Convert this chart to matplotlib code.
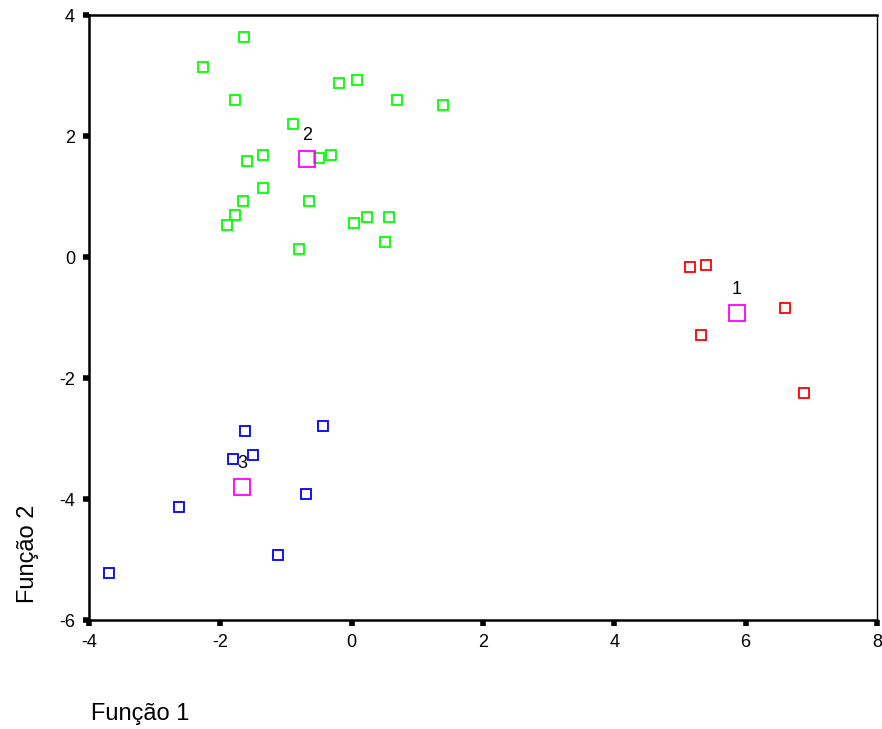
import matplotlib.pyplot as plt

plt.rcParams['font.family'] = ['Liberation Sans', 'DejaVu Sans']
plt.rcParams['axes.unicode_minus'] = False

# grupo 1 (vermelho)
g1_x = [5.16, 5.40, 6.60, 5.32, 6.89]
g1_y = [-0.16, -0.13, -0.85, -1.29, -2.24]

# grupo 2 (verde)
g2_x = [-1.64, -2.26, -1.78, -0.19, 0.08, 0.69, 1.39, -0.89, -1.35, -1.59, -0.50,
        -0.31, -1.35, -1.65, -0.65, -1.78, -1.90, 0.04, 0.23, 0.57, 0.51, -0.80]
g2_y = [3.64, 3.14, 2.59, 2.88, 2.93, 2.59, 2.51, 2.20, 1.69, 1.59, 1.64,
        1.69, 1.14, 0.93, 0.93, 0.69, 0.53, 0.56, 0.66, 0.66, 0.25, 0.13]

# grupo 3 (azul)
g3_x = [-1.62, -0.44, -1.81, -1.50, -0.70, -2.63, -1.12, -3.70]
g3_y = [-2.88, -2.80, -3.34, -3.27, -3.91, -4.13, -4.93, -5.22]

# centroides
cent_x = [5.87, -0.68, -1.67]
cent_y = [-0.93, 1.62, -3.80]
cent_lab = ['1', '2', '3']

fig = plt.figure(figsize=(8.82, 7.29), dpi=100)
ax = fig.add_axes([0.1009, 0.1495, 0.8934, 0.8299])

ax.plot(g1_x, g1_y, 's', ms=7, mfc='none', mec='#ff0000', mew=1.3, ls='none')
ax.plot(g2_x, g2_y, 's', ms=7, mfc='none', mec='#00ff00', mew=1.3, ls='none')
ax.plot(g3_x, g3_y, 's', ms=7, mfc='none', mec='#0000ff', mew=1.3, ls='none')
ax.plot(cent_x, cent_y, 's', ms=12, mfc='none', mec='#ff00ff', mew=1.3, ls='none')
for x, y, t in zip(cent_x, cent_y, cent_lab):
    ax.annotate(t, (x, y), xytext=(0, 11), textcoords='offset points',
                ha='center', va='bottom', fontsize=13)

ax.set_xlim(-4, 8)
ax.set_ylim(-6, 4)
ax.set_xticks([-4, -2, 0, 2, 4, 6, 8])
ax.set_yticks([-6, -4, -2, 0, 2, 4])
ax.tick_params(length=4, width=4, labelsize=13, pad=6)
for s in ['left', 'bottom', 'top']:
    ax.spines[s].set_linewidth(1.8)
ax.spines['right'].set_linewidth(1.0)

fig.text(0.032, 0.24, 'Função 2', rotation=90, ha='center', va='center', fontsize=17)
fig.text(0.103, 0.02, 'Função 1', ha='left', va='center', fontsize=17)

fig.savefig('out.png', dpi=100)
